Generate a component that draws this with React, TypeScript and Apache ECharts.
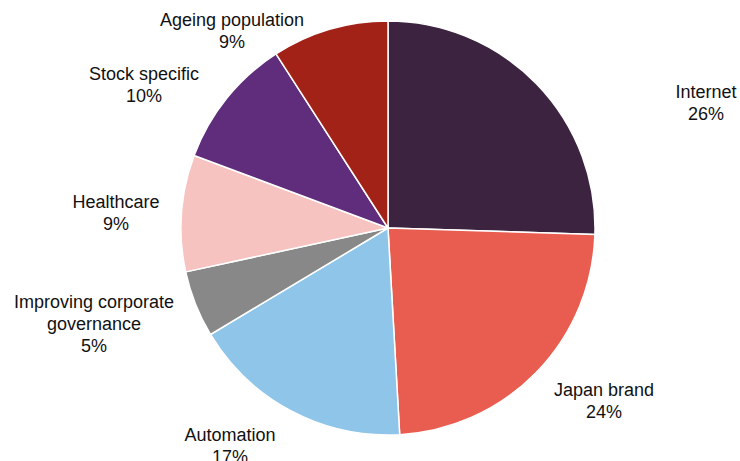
import React, { useEffect, useRef } from "react";
import * as echarts from "echarts";

const categories = [
  "Internet",
  "Japan brand",
  "Automation",
  "Improving corporate\ngovernance",
  "Healthcare",
  "Stock specific",
  "Ageing population",
];
const values = [25.5, 23.6, 17.3, 5.2, 9.1, 10.2, 9.1];
const colors = ["#3C2340", "#E85D4F", "#8FC5E8", "#888888", "#F6C3C0", "#5F2D7B", "#A32218"];
// label block centres (px) in the chart canvas
const labelPos: [number, number][] = [
  [706, 103],
  [604, 401],
  [230, 446],
  [94, 324],
  [116, 213],
  [144, 85],
  [232, 31],
];

export default function App() {
  const ref = useRef<HTMLDivElement>(null);
  useEffect(() => {
    if (!ref.current) return;
    const chart = echarts.init(ref.current, undefined, { renderer: "svg" });
    chart.setOption({
      animation: false,
      backgroundColor: "#ffffff",
      series: [
        {
          type: "pie",
          center: [388, 228],
          radius: 207,
          startAngle: 90,
          clockwise: true,
          avoidLabelOverlap: false,
          data: categories.map((c, i) => ({
            name: c,
            value: values[i],
            itemStyle: { color: colors[i] },
          })),
          itemStyle: { borderColor: "#ffffff", borderWidth: 1.5 },
          label: {
            show: true,
            position: "outside",
            formatter: (p: any) => `${p.name}\n${Math.round(p.value)}%`,
            fontFamily: "Liberation Sans, Arial, sans-serif",
            fontSize: 18,
            lineHeight: 22,
            color: "#111111",
            align: "center",
          },
          labelLine: { show: false },
          labelLayout: (params: any) => {
            const p = labelPos[params.dataIndex];
            return { x: p[0], y: p[1], align: "center", verticalAlign: "middle" };
          },
          emphasis: { disabled: true },
        },
      ],
    });
    return () => chart.dispose();
  }, []);
  return (
    <div
      ref={ref}
      style={{ position: "fixed", left: 0, top: 0, width: 740, height: 461 }}
    />
  );
}
